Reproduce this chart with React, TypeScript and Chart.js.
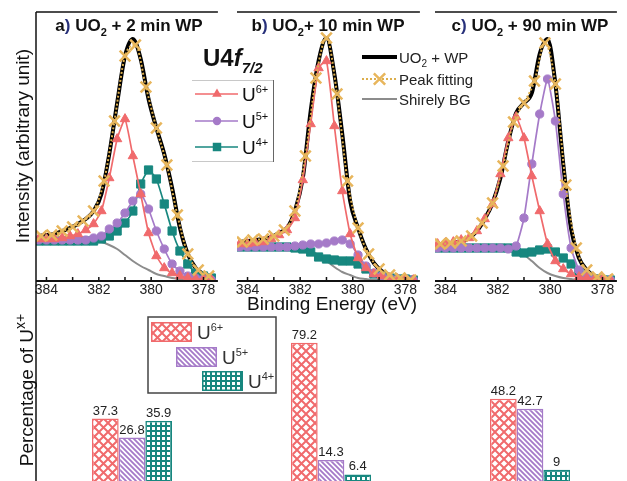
import React, { useEffect, useRef } from 'react';
import { Chart, registerables } from 'chart.js';

Chart.register(...registerables);

const FONT = '"Liberation Sans", Arial, Helvetica, sans-serif';
const RED = '#f06a6c';
const PURPLE = '#a57ac8';
const TEAL = '#17877f';
const GREY = '#8c8c8c';
const GOLD = '#e8b65c';
const NAVY = '#27307a';

// Binding energy grids (eV)
const E_COMP = [384.3, 384.0, 383.7, 383.4, 383.1, 382.8, 382.5, 382.2, 381.9, 381.6, 381.3, 381.0, 380.7, 380.4, 380.1, 379.8, 379.5, 379.2, 378.9, 378.6, 378.3, 378.0, 377.7];
const E_FIT = [384.2, 383.8, 383.4, 383.0, 382.6, 382.2, 381.8, 381.4, 381.0, 380.6, 380.2, 379.8, 379.4, 379.0, 378.6, 378.2, 377.8];
const X_TICKS = [384, 383, 382, 381, 380, 379, 378];

// Panel a: UO2 + 2 min WP
const A_ENV = [45, 46, 47, 50, 53, 57, 62, 70, 87, 127, 178, 225, 242, 222, 182, 153, 127, 93, 53, 27, 13, 7, 4];
const A_FIT = [45, 46, 50, 54, 60, 70, 100, 160, 225, 236, 194, 153, 116, 66, 27, 11, 5];
const A_U6 = [42, 42, 42, 43, 45, 47, 51, 57, 70, 103, 142, 162, 125, 87, 48, 25, 13, 8, 5, 3, 2, 2, 1];
const A_U5 = [41, 41, 41, 41, 41, 41, 41, 43, 45, 52, 58, 68, 80, 87, 72, 50, 32, 17, 10, 5, 3, 2, 1];
const A_U4 = [40, 40, 40, 40, 40, 40, 40, 40, 42, 45, 50, 58, 70, 97, 111, 102, 77, 50, 30, 17, 8, 5, 3];
const A_BG = [42, 42, 42, 42, 41, 41, 40, 40, 39, 36, 32, 26, 20, 15, 11, 7, 5, 3, 2, 1, 1, 1, 1];

// Panel b: UO2 + 10 min WP
const B_ENV = [39, 40, 41, 42, 44, 48, 53, 70, 103, 170, 220, 243, 207, 147, 80, 53, 32, 18, 10, 6, 3, 2, 1];
const B_FIT = [39, 41, 42, 45, 51, 70, 125, 203, 243, 187, 100, 53, 27, 12, 6, 3, 1];
const B_U6 = [37, 37, 38, 39, 42, 46, 51, 63, 101, 157, 213, 220, 155, 90, 47, 23, 13, 7, 5, 3, 2, 2, 1];
const B_U5 = [34, 34, 34, 34, 34, 34, 34, 35, 36, 37, 37, 38, 40, 41, 37, 26, 15, 8, 5, 3, 2, 2, 1];
const B_U4 = [34, 34, 34, 34, 34, 34, 34, 33, 32, 29, 24, 22, 21, 20, 20, 17, 12, 7, 5, 3, 2, 2, 1];
const B_BG = [35, 35, 35, 35, 35, 35, 34, 34, 33, 30, 26, 20, 14, 9, 6, 3, 2, 1, 1, 1, 1, 0, 0];

// Panel c: UO2 + 90 min WP
const C_ENV = [37, 37, 38, 40, 43, 50, 62, 78, 103, 140, 168, 178, 188, 227, 242, 197, 117, 52, 23, 11, 5, 3, 2];
const C_FIT = [37, 38, 40, 45, 58, 78, 115, 159, 178, 200, 238, 197, 96, 33, 11, 4, 2];
const C_U6 = [37, 38, 39, 41, 43, 50, 62, 77, 107, 143, 164, 143, 105, 70, 37, 20, 12, 7, 4, 3, 2, 2, 1];
const C_U5 = [33, 33, 33, 33, 33, 33, 33, 33, 33, 32, 35, 63, 117, 167, 202, 160, 87, 33, 11, 4, 2, 1, 1];
const C_U4 = [33, 33, 33, 33, 33, 33, 33, 33, 33, 33, 29, 28, 29, 31, 32, 29, 23, 17, 9, 4, 2, 1, 1];
const C_BG = [33, 33, 33, 33, 33, 33, 33, 33, 33, 32, 29, 26, 20, 13, 8, 5, 3, 2, 1, 1, 1, 1, 1];

// Bottom bar chart: percentage of U^x+
const BAR_GROUPS = ['2 min', '10 min', '90 min'];
const U6_PCT = [37.3, 79.2, 48.2];
const U5_PCT = [26.8, 14.3, 42.7];
const U4_PCT = [35.9, 6.4, 9];

type Part = { t: string; sub?: boolean; sup?: boolean; italic?: boolean; bold?: boolean; color?: string };

function drawRich(
  ctx: CanvasRenderingContext2D,
  parts: Part[],
  x: number,
  y: number,
  size: number,
  opt: { bold?: boolean; align?: 'left' | 'center'; color?: string; small?: number } = {}
) {
  const small = opt.small ?? 0.64;
  const fontOf = (p: Part) => {
    const s = p.sub || p.sup ? Math.round(size * small) : size;
    const b = (p.bold ?? opt.bold) ? 'bold ' : '';
    return `${p.italic ? 'italic ' : ''}${b}${s}px ${FONT}`;
  };
  ctx.save();
  ctx.textAlign = 'left';
  ctx.textBaseline = 'alphabetic';
  let w = 0;
  for (const p of parts) {
    ctx.font = fontOf(p);
    w += ctx.measureText(p.t).width;
  }
  let cx = opt.align === 'center' ? x - w / 2 : x;
  for (const p of parts) {
    ctx.font = fontOf(p);
    ctx.fillStyle = p.color || opt.color || '#111';
    const dy = p.sub ? size * 0.3 : p.sup ? -size * 0.42 : 0;
    ctx.fillText(p.t, cx, y + dy);
    cx += ctx.measureText(p.t).width;
  }
  ctx.restore();
}

function marker(ctx: CanvasRenderingContext2D, kind: string, x: number, y: number, r: number, color: string) {
  ctx.save();
  ctx.fillStyle = color;
  ctx.strokeStyle = color;
  ctx.beginPath();
  if (kind === 'triangle') {
    ctx.moveTo(x, y - r);
    ctx.lineTo(x + r * 0.866, y + r * 0.5);
    ctx.lineTo(x - r * 0.866, y + r * 0.5);
    ctx.closePath();
    ctx.fill();
  } else if (kind === 'circle') {
    ctx.arc(x, y, r, 0, Math.PI * 2);
    ctx.fill();
  } else if (kind === 'rect') {
    const s = r * 0.707;
    ctx.fillRect(x - s, y - s, 2 * s, 2 * s);
  } else if (kind === 'crossRot') {
    const s = r * 0.707;
    ctx.lineWidth = 2.5;
    ctx.moveTo(x - s, y - s);
    ctx.lineTo(x + s, y + s);
    ctx.moveTo(x + s, y - s);
    ctx.lineTo(x - s, y + s);
    ctx.stroke();
  }
  ctx.restore();
}

const pts = (xs: number[], ys: number[]) => xs.map((x, i) => ({ x, y: ys[i] }));

const framePlugin = {
  id: 'panelFrame',
  afterDraw(chart: any) {
    const { ctx, chartArea } = chart;
    const { left, right, top, bottom } = chartArea;
    const xs = chart.scales.x;
    ctx.save();
    ctx.strokeStyle = '#111';
    ctx.lineWidth = 1.5;
    ctx.beginPath();
    ctx.moveTo(left, top);
    ctx.lineTo(right, top);
    ctx.stroke();
    ctx.lineWidth = 2;
    ctx.beginPath();
    ctx.moveTo(left, bottom);
    ctx.lineTo(right, bottom);
    ctx.stroke();
    ctx.lineWidth = 1.5;
    for (const v of X_TICKS) {
      const p = xs.getPixelForValue(v);
      ctx.beginPath();
      ctx.moveTo(p, bottom);
      ctx.lineTo(p, bottom - 4);
      ctx.stroke();
    }
    ctx.restore();
  },
};

type PanelProps = {
  env: number[]; fit: number[]; u6: number[]; u5: number[]; u4: number[]; bg: number[];
  left: number; width: number; padLeft: number;
};

function Panel({ env, fit, u6, u5, u4, bg, left, width, padLeft }: PanelProps) {
  const ref = useRef<HTMLCanvasElement>(null);
  useEffect(() => {
    const chart = new Chart(ref.current as HTMLCanvasElement, {
      type: 'line',
      data: {
        datasets: [
          {
            label: 'Peak fitting', data: pts(E_FIT, fit), borderColor: '#dcae4c', borderDash: [2, 2], borderWidth: 2,
            pointStyle: 'crossRot', pointRadius: 7.5, pointBorderColor: GOLD, pointBackgroundColor: GOLD,
            pointBorderWidth: 2.6, cubicInterpolationMode: 'monotone', order: 0,
          },
          {
            label: 'U6+', data: pts(E_COMP, u6), borderColor: RED, backgroundColor: RED, borderWidth: 1.7,
            pointStyle: 'triangle', pointRadius: 5.4, pointBorderWidth: 1, tension: 0.15, order: 1,
          },
          {
            label: 'U5+', data: pts(E_COMP, u5), borderColor: PURPLE, backgroundColor: PURPLE, borderWidth: 1.7,
            pointStyle: 'circle', pointRadius: 4.1, pointBorderWidth: 1, tension: 0.15, order: 2,
          },
          {
            label: 'U4+', data: pts(E_COMP, u4), borderColor: TEAL, backgroundColor: TEAL, borderWidth: 1.7,
            pointStyle: 'rect', pointRadius: 5.8, pointBorderWidth: 1, tension: 0.15, order: 3,
          },
          {
            label: 'UO2 + WP', data: pts(E_COMP, env), borderColor: '#000', borderWidth: 4, pointRadius: 0,
            cubicInterpolationMode: 'monotone', order: 4,
          },
          {
            label: 'Shirely BG', data: pts(E_COMP, bg), borderColor: GREY, borderWidth: 2, pointRadius: 0,
            cubicInterpolationMode: 'monotone', order: 5,
          },
        ] as any,
      },
      options: {
        responsive: false,
        animation: false,
        events: [],
        layout: { padding: { left: padLeft, right: 0, top: 12, bottom: 19 } },
        plugins: { legend: { display: false }, tooltip: { enabled: false } },
        scales: {
          x: {
            type: 'linear', reverse: true, min: 377.45, max: 384.4,
            afterBuildTicks: (s: any) => { s.ticks = X_TICKS.map((v) => ({ value: v })); },
            afterFit: (s: any) => { s.height = 20; },
            grid: { display: false, drawTicks: false },
            border: { display: false },
            ticks: {
              autoSkip: false, maxRotation: 0, padding: 1, color: '#222',
              font: { family: FONT, size: 14 },
              callback: (v: any) => (Number(v) % 2 === 0 ? String(v) : ''),
            },
          },
          y: { display: false, min: 0, max: 269 },
        },
      } as any,
      plugins: [framePlugin],
    });
    return () => chart.destroy();
  }, []);
  return (
    <canvas
      ref={ref}
      width={width}
      height={320}
      style={{ position: 'absolute', left, top: 0, width, height: 320 }}
    />
  );
}

function makePattern(target: CanvasRenderingContext2D, kind: 'cross' | 'diag' | 'grid', color: string) {
  const c = document.createElement('canvas');
  const n = kind === 'cross' ? 9 : 5;
  c.width = n;
  c.height = n;
  const g = c.getContext('2d') as CanvasRenderingContext2D;
  g.fillStyle = '#fff';
  g.fillRect(0, 0, n, n);
  g.strokeStyle = color;
  g.fillStyle = color;
  if (kind === 'cross') {
    g.lineWidth = 2;
    g.beginPath();
    g.moveTo(0, 0); g.lineTo(n, n);
    g.moveTo(n, 0); g.lineTo(0, n);
    g.stroke();
  } else if (kind === 'diag') {
    g.lineWidth = 1.8;
    g.beginPath();
    g.moveTo(-1, -1); g.lineTo(n + 1, n + 1);
    g.moveTo(-1, n - 1); g.lineTo(1, n + 1);
    g.moveTo(n - 1, -1); g.lineTo(n + 1, 1);
    g.stroke();
  } else {
    g.fillRect(0, 0, n, n);
    g.fillStyle = '#fff';
    g.fillRect(2, 2, 3, 3);
  }
  return target.createPattern(c, 'repeat') as CanvasPattern;
}

function Overlay() {
  const ref = useRef<HTMLCanvasElement>(null);
  useEffect(() => {
    const canvas = ref.current as HTMLCanvasElement;
    const c2d = canvas.getContext('2d') as CanvasRenderingContext2D;
    const pRed = makePattern(c2d, 'cross', RED);
    const pPur = makePattern(c2d, 'diag', PURPLE);
    const pTeal = makePattern(c2d, 'grid', TEAL);

    const barLabels = {
      id: 'barLabels',
      afterDatasetsDraw(chart: any) {
        const ctx = chart.ctx as CanvasRenderingContext2D;
        ctx.save();
        ctx.font = `13px ${FONT}`;
        ctx.fillStyle = '#222';
        ctx.textAlign = 'center';
        ctx.textBaseline = 'bottom';
        chart.data.datasets.forEach((ds: any, i: number) => {
          const meta = chart.getDatasetMeta(i);
          meta.data.forEach((el: any, j: number) => {
            ctx.fillText(String(ds.data[j]), el.x, el.y - 1);
          });
        });
        ctx.restore();
      },
    };

    const texts = {
      id: 'figureTexts',
      afterDraw(chart: any) {
        const ctx = chart.ctx as CanvasRenderingContext2D;
        ctx.save();
        ctx.strokeStyle = '#111';
        ctx.lineWidth = 1.5;
        ctx.beginPath();
        ctx.moveTo(36, 12);
        ctx.lineTo(36, 500);
        ctx.stroke();
        ctx.restore();

        // panel titles
        drawRich(ctx, [{ t: 'a' }, { t: ')', color: NAVY }, { t: ' UO' }, { t: '2', sub: true }, { t: ' + 2 min WP' }], 129, 31, 17, { bold: true, align: 'center' });
        drawRich(ctx, [{ t: 'b' }, { t: ')', color: NAVY }, { t: ' UO' }, { t: '2', sub: true }, { t: '+ 10 min WP' }], 328, 31, 17, { bold: true, align: 'center' });
        drawRich(ctx, [{ t: 'c' }, { t: ')', color: NAVY }, { t: ' UO' }, { t: '2', sub: true }, { t: ' + 90 min WP' }], 530, 31, 17, { bold: true, align: 'center' });

        // U4f7/2
        drawRich(ctx, [{ t: 'U4' }, { t: 'f', italic: true }, { t: '7/2', italic: true, sub: true }], 203, 66, 24, { bold: true });

        // component legend
        ctx.save();
        ctx.lineWidth = 1;
        ctx.strokeStyle = '#c8c8c8';
        ctx.beginPath();
        ctx.moveTo(192, 80.5); ctx.lineTo(273, 80.5);
        ctx.moveTo(192, 161.5); ctx.lineTo(273, 161.5);
        ctx.stroke();
        ctx.strokeStyle = '#666';
        ctx.beginPath();
        ctx.moveTo(273.5, 80); ctx.lineTo(273.5, 162);
        ctx.stroke();
        ctx.restore();
        const comps: [string, string, string, number][] = [
          ['6+', RED, 'triangle', 94],
          ['5+', PURPLE, 'circle', 121],
          ['4+', TEAL, 'rect', 147],
        ];
        for (const [sup, col, kind, y] of comps) {
          ctx.save();
          ctx.strokeStyle = col;
          ctx.lineWidth = 1.7;
          ctx.beginPath();
          ctx.moveTo(195, y); ctx.lineTo(238, y);
          ctx.stroke();
          ctx.restore();
          marker(ctx, kind, 217, y, kind === 'triangle' ? 5.6 : kind === 'circle' ? 4.2 : 6, col);
          drawRich(ctx, [{ t: 'U' }, { t: sup, sup: true }], 242, y + 7, 19, { small: 0.6 });
        }

        // right legend
        ctx.save();
        ctx.strokeStyle = '#000';
        ctx.lineWidth = 4;
        ctx.beginPath();
        ctx.moveTo(362, 57); ctx.lineTo(397, 57);
        ctx.stroke();
        ctx.strokeStyle = '#dcae4c';
        ctx.lineWidth = 2;
        ctx.setLineDash([2, 2]);
        ctx.beginPath();
        ctx.moveTo(362, 79); ctx.lineTo(397, 79);
        ctx.stroke();
        ctx.setLineDash([]);
        ctx.strokeStyle = GREY;
        ctx.lineWidth = 2;
        ctx.beginPath();
        ctx.moveTo(362, 99); ctx.lineTo(397, 99);
        ctx.stroke();
        ctx.restore();
        marker(ctx, 'crossRot', 379.5, 79, 8, GOLD);
        drawRich(ctx, [{ t: 'UO' }, { t: '2', sub: true }, { t: ' + WP' }], 399, 62.5, 15, { color: '#222' });
        drawRich(ctx, [{ t: 'Peak fitting' }], 399, 84.5, 15, { color: '#222' });
        drawRich(ctx, [{ t: 'Shirely BG' }], 399, 104.5, 15, { color: '#222' });

        // axis titles
        drawRich(ctx, [{ t: 'Binding Energy (eV)' }], 332, 310, 19, { align: 'center', color: '#111' });
        ctx.save();
        ctx.translate(29, 146);
        ctx.rotate(-Math.PI / 2);
        drawRich(ctx, [{ t: 'Intensity (arbitrary unit)' }], 0, 0, 19, { align: 'center', color: '#111' });
        ctx.restore();
        ctx.save();
        ctx.translate(33, 390);
        ctx.rotate(-Math.PI / 2);
        drawRich(ctx, [{ t: 'Percentage of U' }, { t: 'x+', sup: true }], 0, 0, 19, { align: 'center', color: '#111', small: 0.75 });
        ctx.restore();

        // bar legend
        ctx.save();
        ctx.strokeStyle = '#444';
        ctx.lineWidth = 1.5;
        ctx.strokeRect(148, 317, 128, 76);
        const sw: [CanvasPattern, string, number, number, string][] = [
          [pRed, RED, 151, 322, '6+'],
          [pPur, PURPLE, 176, 347, '5+'],
          [pTeal, TEAL, 202, 371, '4+'],
        ];
        for (const [pat, col, x, y, sup] of sw) {
          ctx.fillStyle = pat;
          ctx.fillRect(x, y, 41, 20);
          ctx.strokeStyle = col;
          ctx.lineWidth = 1.5;
          ctx.strokeRect(x + 0.75, y + 0.75, 39.5, 18.5);
          drawRich(ctx, [{ t: 'U' }, { t: sup, sup: true }], x + 46, y + 17, 19, { color: '#333', small: 0.6 });
        }
        ctx.restore();
      },
    };

    const chart = new Chart(canvas, {
      type: 'bar',
      data: {
        labels: BAR_GROUPS,
        datasets: [
          { label: 'U6+', data: U6_PCT, backgroundColor: pRed, borderColor: RED, borderWidth: 1.5 },
          { label: 'U5+', data: U5_PCT, backgroundColor: pPur, borderColor: PURPLE, borderWidth: 1.5 },
          { label: 'U4+', data: U4_PCT, backgroundColor: pTeal, borderColor: TEAL, borderWidth: 1.5 },
        ] as any,
      },
      options: {
        responsive: false,
        animation: false,
        events: [],
        layout: { padding: { left: 32.5, right: 10.5, top: 305, bottom: 14 } },
        plugins: { legend: { display: false }, tooltip: { enabled: false } },
        datasets: { bar: { categoryPercentage: 0.402, barPercentage: 1 } },
        scales: {
          x: { display: false },
          y: { display: false, min: 0, max: 100 },
        },
      } as any,
      plugins: [barLabels, texts],
    });
    return () => chart.destroy();
  }, []);
  return (
    <canvas
      ref={ref}
      width={640}
      height={500}
      style={{ position: 'absolute', left: 0, top: 0, width: 640, height: 500 }}
    />
  );
}

export default function App() {
  return (
    <div
      style={{
        position: 'fixed', left: 0, top: 0, width: 627, height: 481,
        overflow: 'hidden', background: '#fff',
      }}
    >
      <Panel env={A_ENV} fit={A_FIT} u6={A_U6} u5={A_U5} u4={A_U4} bg={A_BG} left={0} width={228} padLeft={36} />
      <Panel env={B_ENV} fit={B_FIT} u6={B_U6} u5={B_U5} u4={B_U4} bg={B_BG} left={220} width={210} padLeft={17} />
      <Panel env={C_ENV} fit={C_FIT} u6={C_U6} u5={C_U5} u4={C_U4} bg={C_BG} left={420} width={207} padLeft={15} />
      <Overlay />
    </div>
  );
}
